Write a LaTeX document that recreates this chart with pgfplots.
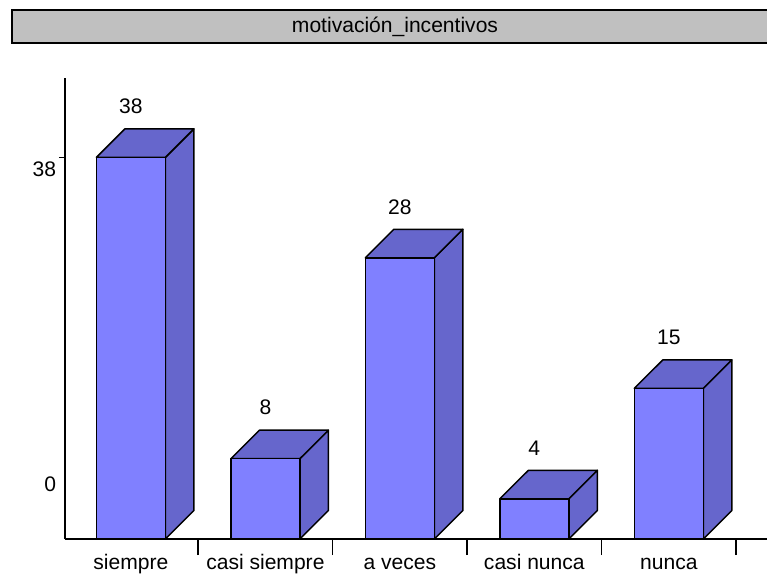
\documentclass[border=0pt]{standalone}
\usepackage{pgfplots}
\pgfplotsset{compat=1.18}
\usepackage{fontspec}
\setmainfont{Liberation Sans}
\definecolor{barfront}{RGB}{128,128,255}
\definecolor{barside}{RGB}{102,102,204}
\definecolor{titlegray}{RGB}{192,192,192}
\begin{document}
\fontsize{15.8}{18}\selectfont
\begin{tikzpicture}
\path[use as bounding box] (-48.75pt,-27.75pt) rectangle (526.5pt,404.25pt);
\draw[fill=titlegray, line width=1.2pt] (-39.75pt,372pt) rectangle (540pt,396.75pt);
\node at (247.5pt,384.4pt) {motivación\_incentivos};
\begin{axis}[
  scale only axis, width=526.5pt, height=345.75pt,
  xmin=-0.49, xmax=4.73, ymin=0, ymax=45.9,
  axis x line=bottom, axis y line=left,
  axis line style={-, line width=1.2pt},
  clip=false,
  /pgf/number format/assume math mode=true,
  tick align=outside,
  xtick={0,1,2,3,4},
  xticklabels={siempre, casi siempre, a veces, casi nunca, nunca},
  tick style={black, line width=1.2pt},
  every major x tick/.append style={draw=none},
  minor xtick={0.5,1.5,2.5,3.5,4.5},
  minor tick length=12pt,
  major tick length=4.5pt,
  ytick={38}, yticklabels={38},
  extra y ticks={6.67}, extra y tick labels={0},
  extra y tick style={tick style={draw=none}},
  yticklabel style={yshift=-9pt, xshift=3.2pt},
  xticklabel style={anchor=base, yshift=-18.5pt},
]
% side faces
\addplot[fill=barside, draw=black, line width=1.1pt, line join=round] coordinates {(0.2565,0) (0.4685,2.836) (0.4685,40.836) (0.2565,38)} -- cycle;
\addplot[fill=barside, draw=black, line width=1.1pt, line join=round] coordinates {(1.2565,0) (1.4685,2.836) (1.4685,10.836) (1.2565,8)} -- cycle;
\addplot[fill=barside, draw=black, line width=1.1pt, line join=round] coordinates {(2.2565,0) (2.4685,2.836) (2.4685,30.836) (2.2565,28)} -- cycle;
\addplot[fill=barside, draw=black, line width=1.1pt, line join=round] coordinates {(3.2565,0) (3.4685,2.836) (3.4685,6.836) (3.2565,4)} -- cycle;
\addplot[fill=barside, draw=black, line width=1.1pt, line join=round] coordinates {(4.2565,0) (4.4685,2.836) (4.4685,17.836) (4.2565,15)} -- cycle;
% top faces
\addplot[fill=barside, draw=black, line width=1.1pt, line join=round] coordinates {(-0.2565,38) (0.2565,38) (0.4685,40.836) (-0.0445,40.836)} -- cycle;
\addplot[fill=barside, draw=black, line width=1.1pt, line join=round] coordinates {(0.7435,8) (1.2565,8) (1.4685,10.836) (0.9555,10.836)} -- cycle;
\addplot[fill=barside, draw=black, line width=1.1pt, line join=round] coordinates {(1.7435,28) (2.2565,28) (2.4685,30.836) (1.9555,30.836)} -- cycle;
\addplot[fill=barside, draw=black, line width=1.1pt, line join=round] coordinates {(2.7435,4) (3.2565,4) (3.4685,6.836) (2.9555,6.836)} -- cycle;
\addplot[fill=barside, draw=black, line width=1.1pt, line join=round] coordinates {(3.7435,15) (4.2565,15) (4.4685,17.836) (3.9555,17.836)} -- cycle;
% front faces
\addplot[fill=barfront, draw=black, line width=1.1pt, line join=round] coordinates {(-0.2565,0) (0.2565,0) (0.2565,38) (-0.2565,38)} -- cycle;
\addplot[fill=barfront, draw=black, line width=1.1pt, line join=round] coordinates {(0.7435,0) (1.2565,0) (1.2565,8) (0.7435,8)} -- cycle;
\addplot[fill=barfront, draw=black, line width=1.1pt, line join=round] coordinates {(1.7435,0) (2.2565,0) (2.2565,28) (1.7435,28)} -- cycle;
\addplot[fill=barfront, draw=black, line width=1.1pt, line join=round] coordinates {(2.7435,0) (3.2565,0) (3.2565,4) (2.7435,4)} -- cycle;
\addplot[fill=barfront, draw=black, line width=1.1pt, line join=round] coordinates {(3.7435,0) (4.2565,0) (4.2565,15) (3.7435,15)} -- cycle;
% value labels
\addplot[draw=none, nodes near coords, every node near coord/.append style={anchor=center, yshift=38.25pt, black}] coordinates {(0,38) (1,8) (2,28) (3,4) (4,15)};
\end{axis}
\end{tikzpicture}
\end{document}
